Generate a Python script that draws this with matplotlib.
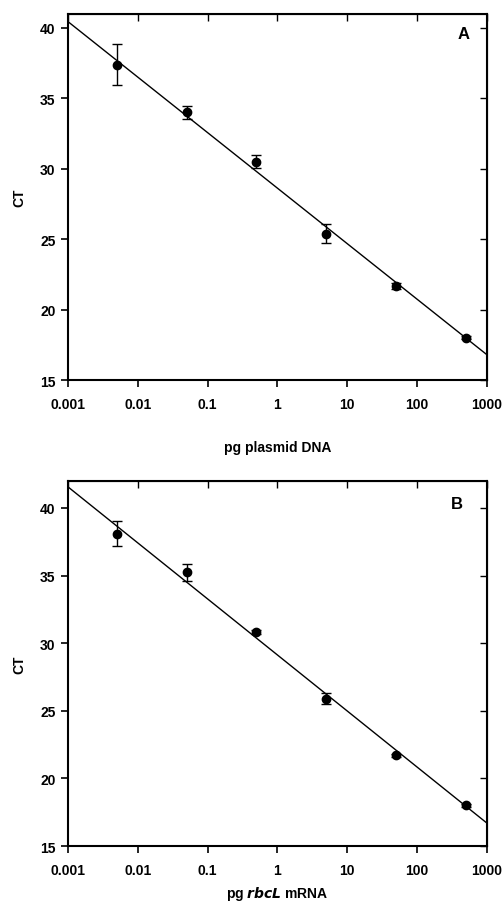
import matplotlib
matplotlib.use("Agg")
import matplotlib.pyplot as plt
from matplotlib.ticker import FixedLocator, FixedFormatter, NullLocator
import numpy as np

plt.rcParams['font.family'] = ['Liberation Sans', 'DejaVu Sans']
plt.rcParams['font.weight'] = 'bold'

# Data
x_amount = [0.005, 0.05, 0.5, 5, 50, 500]
ct_a = [37.4, 34.0, 30.5, 25.4, 21.7, 18.0]
err_a = [1.45, 0.43, 0.47, 0.65, 0.2, 0.12]
ct_b = [38.1, 35.25, 30.8, 25.9, 21.7, 18.0]
err_b = [0.93, 0.63, 0.15, 0.43, 0.1, 0.1]
fit_x = [0.001, 1000]
fit_a = [40.45, 16.8]
fit_b = [41.55, 16.7]
xticks = [0.001, 0.01, 0.1, 1, 10, 100, 1000]
xtick_labels = ['0.001', '0.01', '0.1', '1', '10', '100', '1000']
yticks = [15, 20, 25, 30, 35, 40]

fig = plt.figure(figsize=(5.04, 9.04), dpi=100)

panels = [
    dict(rect=[0.135, 0.5785, 0.831, 0.405], y=ct_a, e=err_a, fit=fit_a,
         ylim=(15, 41), letter='A', lx=0.959, ly=0.967,
         xlabel='pg plasmid DNA', lpad=21),
    dict(rect=[0.135, 0.063, 0.831, 0.404], y=ct_b, e=err_b, fit=fit_b,
         ylim=(15, 42), letter='B', lx=0.943, ly=0.958,
         xlabel=r'pg $\mathbfit{rbcL}$ mRNA', lpad=5),
]

for p in panels:
    ax = fig.add_axes(p['rect'])
    ax.set_xscale('log')
    ax.plot(fit_x, p['fit'], color='black', lw=1.0, zorder=2)
    ax.errorbar(x_amount, p['y'], yerr=p['e'], fmt='o', color='black',
                ms=6, elinewidth=1.0, capsize=3.5, capthick=1.0, zorder=3)
    ax.set_xlim(0.001, 1000)
    ax.set_ylim(*p['ylim'])
    ax.xaxis.set_major_locator(FixedLocator(xticks))
    ax.xaxis.set_major_formatter(FixedFormatter(xtick_labels))
    ax.xaxis.set_minor_locator(NullLocator())
    ax.set_yticks(yticks)
    ax.tick_params(direction='out', length=5, width=1.2, labelsize=10)
    ax.tick_params(axis='x', pad=7)
    ax.tick_params(axis='y', pad=4)
    for s in ax.spines.values():
        s.set_linewidth(1.5)
    sx = ax.secondary_xaxis('top')
    sx.xaxis.set_major_locator(FixedLocator(xticks))
    sx.xaxis.set_minor_locator(NullLocator())
    sx.tick_params(direction='in', length=5, width=1.0, labeltop=False)
    sy = ax.secondary_yaxis('right')
    sy.set_yticks(yticks)
    sy.tick_params(direction='in', length=5, width=1.0, labelright=False)
    ax.text(p['lx'], p['ly'], p['letter'], transform=ax.transAxes, ha='right', va='top',
            fontsize=12, fontweight='bold')
    ax.set_ylabel('CT', fontsize=10, fontweight='bold', labelpad=10)
    ax.set_xlabel(p['xlabel'], fontsize=10, fontweight='bold', labelpad=p['lpad'])

fig.savefig('out.png', dpi=100)
